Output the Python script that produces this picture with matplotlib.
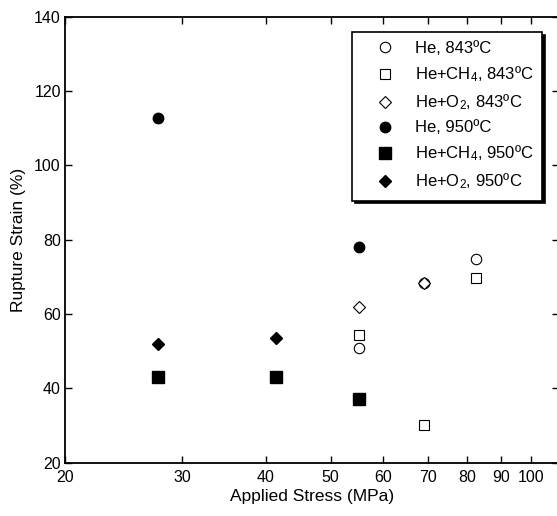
import matplotlib
matplotlib.use("Agg")
from matplotlib import pyplot as plt
from matplotlib.ticker import FixedLocator, NullLocator

plt.rcParams['font.family'] = ['Liberation Sans', 'DejaVu Sans']
plt.rcParams['mathtext.fontset'] = 'custom'
plt.rcParams['mathtext.rm'] = 'Liberation Sans'
plt.rcParams['mathtext.it'] = 'Liberation Sans'

# applied stress (MPa) and rupture strain (%) for each test condition
he_843_x = [55.2, 69.0, 82.7]
he_843_y = [50.8, 68.3, 74.8]
ch4_843_x = [55.2, 69.0, 82.7]
ch4_843_y = [54.3, 30.0, 69.8]
o2_843_x = [55.2, 69.0]
o2_843_y = [61.8, 68.3]
he_950_x = [27.6, 55.2]
he_950_y = [112.7, 78.0]
ch4_950_x = [27.6, 41.4, 55.2]
ch4_950_y = [43.1, 43.1, 37.1]
o2_950_x = [27.6, 41.4]
o2_950_y = [51.9, 53.5]

labels = ['He, 843ºC', 'He+CH$_4$, 843ºC', 'He+O$_2$, 843ºC',
          'He, 950ºC', 'He+CH$_4$, 950ºC', 'He+O$_2$, 950ºC']
xticks = [20, 30, 40, 50, 60, 70, 80, 90, 100]
yticks = [20, 40, 60, 80, 100, 120, 140]

fig = plt.figure(figsize=(5.57, 5.16), dpi=100)
ax = fig.add_axes([65 / 557, 1 - 462.6 / 516, 494 / 557, 445.9 / 516])

open_kw = dict(linestyle='none', markerfacecolor='white', markeredgecolor='black', markeredgewidth=0.8)
fill_kw = dict(linestyle='none', color='black')
ax.plot(he_843_x, he_843_y, marker='o', markersize=7.5, label=labels[0], **open_kw)
ax.plot(ch4_843_x, ch4_843_y, marker='s', markersize=7.5, label=labels[1], **open_kw)
ax.plot(o2_843_x, o2_843_y, marker='D', markersize=6, label=labels[2], **open_kw)
ax.plot(he_950_x, he_950_y, marker='o', markersize=7.5, label=labels[3], **fill_kw)
ax.plot(ch4_950_x, ch4_950_y, marker='s', markersize=8, label=labels[4], **fill_kw)
ax.plot(o2_950_x, o2_950_y, marker='D', markersize=6, label=labels[5], **fill_kw)

ax.set_xscale('log')
ax.set_xlim(20, 110)
ax.set_ylim(20, 140)
ax.xaxis.set_major_locator(FixedLocator(xticks))
ax.xaxis.set_minor_locator(NullLocator())
ax.set_xticklabels([str(t) for t in xticks])
ax.set_yticks(yticks)
ax.tick_params(direction='in', top=True, right=True, length=5, width=1, labelsize=11.5)
ax.tick_params(axis='x', pad=5)
ax.tick_params(axis='y', pad=3)
for s in ax.spines.values():
    s.set_linewidth(1.3)

ax.set_xlabel('Applied Stress (MPa)', fontsize=12.5, labelpad=3)
ax.set_ylabel('Rupture Strain (%)', fontsize=12.5, labelpad=6)

leg = ax.legend(loc='upper right', bbox_to_anchor=(0.966, 0.966), borderaxespad=0,
                fontsize=12, frameon=True, fancybox=False, edgecolor='black',
                shadow={'color': 'black', 'alpha': 1}, handlelength=2.8,
                handletextpad=0.4, labelspacing=0.5, borderpad=0.55)
leg.get_frame().set_linewidth(1.2)
leg.get_frame().set_alpha(1)

fig.savefig('out.png', dpi=100)
